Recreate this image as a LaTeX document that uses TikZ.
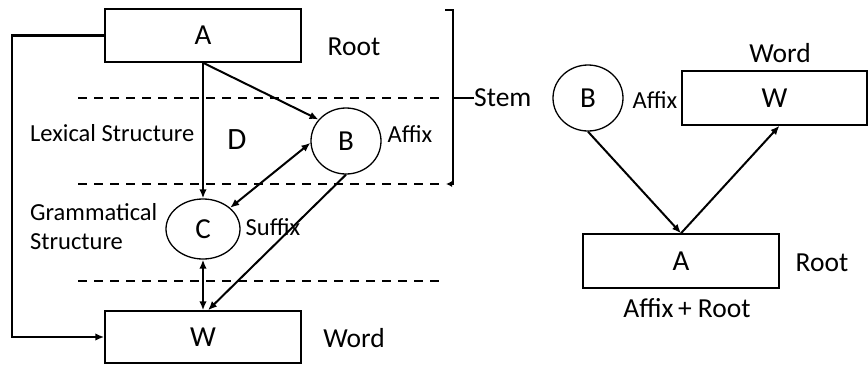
\documentclass[tikz,border=0pt]{standalone}
\usepackage{fontspec}
\setmainfont{Carlito}
\usetikzlibrary{arrows.meta,shapes.geometric,calc}
\begin{document}
\begin{tikzpicture}[x=1pt,y=-1pt,
  box/.style={draw,line width=1.5pt,rectangle,inner sep=0pt,font=\fontsize{29}{32}\selectfont},
  oval/.style={draw,line width=1.3pt,ellipse,inner sep=0pt,font=\fontsize{29}{32}\selectfont},
  big/.style={inner sep=0pt,font=\fontsize{27.5}{31}\selectfont},
  mid/.style={inner sep=0pt,font=\fontsize{24.5}{29}\selectfont},
  small/.style={inner sep=0pt,font=\fontsize{24.5}{28}\selectfont},
  conn/.style={line width=2pt,-{Latex[length=9pt,width=7.5pt]}},
  dconn/.style={line width=2pt,{Latex[length=9pt,width=7.5pt]}-{Latex[length=9pt,width=7.5pt]}},
  sep/.style={line width=1.8pt,dash pattern=on 9pt off 7pt}]
\useasboundingbox (0,0) rectangle (868,365);
% left diagram
\node[box,minimum width=196pt,minimum height=53pt] (A1) at (203,35.5) {A};
\node[box,minimum width=196pt,minimum height=52pt] (W1) at (203,337) {W};
\node[oval,minimum width=70pt,minimum height=66pt] (B1) at (346,141) {B};
\node[oval,minimum width=74pt,minimum height=60pt] (C1) at (203,229) {C};
\node[big] (root1) at (354,47) {Root};
\node[big] (word1) at (354,338) {Word};
\node[big,anchor=west] (stem) at (474,98) {Stem};
\node[mid,anchor=west] (lex) at (30,133) {Lexical Structure};
\node[big,font=\fontsize{31}{34}\selectfont] (D) at (237,140) {D};
\node[small] (affix1) at (410,134) {Affix};
\node[mid,anchor=west,align=left] (gram) at (30,227) {Grammatical\\Structure};
\node[small] (suffix) at (273,227) {Suffix};
% dashed separators
\draw[sep] (78,98) -- (440,98);
\draw[sep] (78,184) -- (440,184);
\draw[sep] (78,281) -- (440,281);
% bracket
\coordinate (bt) at (445,10);
\coordinate (bm) at (453,98);
\coordinate (bb) at (446,184);
\draw[line width=2pt,-{Latex[length=6pt,width=6pt]}] (bt) -- (453,10) -- (453,184) -- (bb);
\draw[line width=1.8pt] (bm) -- (stem.west);
% connectors
\draw[conn] (A1.south) -- (C1.north);
\draw[conn] (A1.south) -- (B1.142);
\draw[dconn] (C1.38) -- (B1.183);
\draw[conn] (B1.south) -- ([xshift=5pt]W1.north);
\draw[dconn] (C1.south) -- (W1.north);
\coordinate (l1) at (12,35.5);
\coordinate (l2) at (12,337);
\draw[line width=2.2pt,-{Latex[length=9pt,width=7.5pt]}] (A1.west) -- (l1) -- (l2) -- (W1.west);
% right diagram
\node[oval,minimum width=70pt,minimum height=66pt] (B2) at (588,98) {B};
\node[box,minimum width=185pt,minimum height=54pt] (W2) at (774.5,98) {W};
\node[box,minimum width=196pt,minimum height=54pt] (A2) at (681,261) {A};
\node[small] (affix2) at (655,100) {Affix};
\node[big] (word2) at (780,53) {Word};
\node[big] (root2) at (822,263) {Root};
\node[big] (ar) at (687,308) {Affix\,+ Root};
\draw[conn] (B2.south) -- (A2.north);
\draw[conn] (A2.north) -- ([xshift=5pt]W2.south);
\end{tikzpicture}
\end{document}
